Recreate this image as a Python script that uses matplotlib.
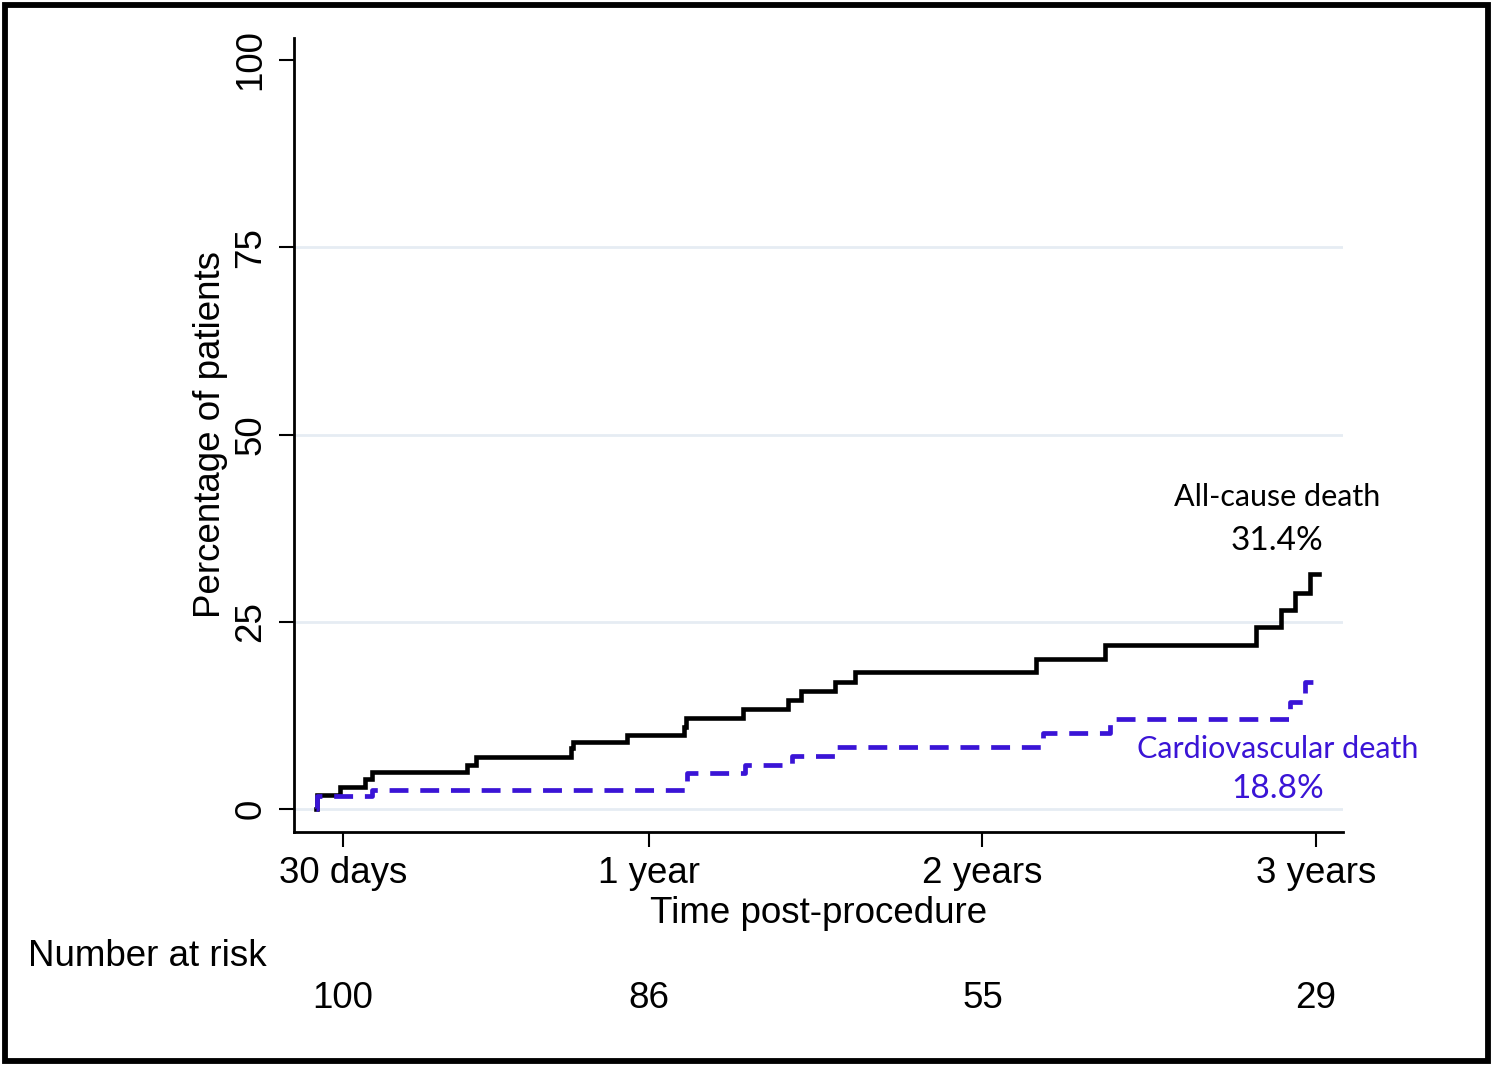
import matplotlib
matplotlib.use("Agg")
import matplotlib.pyplot as plt
from matplotlib.patches import Rectangle
from matplotlib.transforms import blended_transform_factory

# ---------------- data ----------------
# time in days post-procedure, cumulative percentage (step, post)
allcause_days = [0, 1, 27, 54, 62, 166, 176, 279, 282, 341, 403, 405, 468, 517, 531,
                 569, 590, 789, 864, 1030, 1057, 1072, 1089, 1098]
allcause_pct = [0, 1.9, 2.9, 4.0, 4.9, 5.9, 6.9, 8.1, 8.9, 9.9, 11.0, 12.2, 13.3, 14.5, 15.8,
                17.0, 18.25, 20.0, 21.9, 24.3, 26.6, 28.9, 31.4, 31.4]

cv_days = [0, 1, 62, 407, 470, 522, 570, 796, 870, 1067, 1083, 1098]
cv_pct = [0, 1.7, 2.5, 4.8, 5.9, 7.1, 8.3, 10.1, 12.0, 14.3, 16.9, 16.9]

xtick_pos = [30, 365, 730, 1095]
xtick_labels = ["30 days", "1 year", "2 years", "3 years"]
ytick_pos = [0, 25, 50, 75, 100]
grid_levels = [0, 25, 50, 75]
at_risk = [100, 86, 55, 29]

allcause_label = "All-cause death"
allcause_final = "31.4%"
cv_label = "Cardiovascular death"
cv_final = "18.8%"

# ---------------- style ----------------
BLUE = "#3a14d6"
STATA_FONT = ["Liberation Sans", "DejaVu Sans"]
NOTE_FONT = ["Lato", "DejaVu Sans"]
FS = 26.5

W, H = 1492, 1065
fig = plt.figure(figsize=(W / 100, H / 100), dpi=100)
fig.patch.set_facecolor("white")

ax = fig.add_axes([294 / W, 1 - 832 / H, (1342.8 - 294) / W, (832 - 38) / H])
ax.set_xlim(-23.8, 1124.6)
ax.set_ylim(-3.07, 102.94)

for g in grid_levels:
    ax.axhline(g, color="#e6ecf3", lw=2.0, zorder=0)

ax.step(allcause_days, allcause_pct, where="post", color="black", lw=3.3,
        solid_joinstyle="miter", zorder=3)
ax.step(cv_days, cv_pct, where="post", color=BLUE, lw=3.4,
        linestyle=(0, (4.0, 2.5)), dash_capstyle="butt", zorder=4)

for s in ["top", "right"]:
    ax.spines[s].set_visible(False)
for s in ["left", "bottom"]:
    ax.spines[s].set_linewidth(2.0)
    ax.spines[s].set_color("black")

ax.set_xticks(xtick_pos)
ax.set_xticklabels(xtick_labels, family=STATA_FONT, fontsize=FS)
ax.set_yticks(ytick_pos)
ax.set_yticklabels([str(v) for v in ytick_pos], family=STATA_FONT, fontsize=FS,
                   rotation=90, va="center")
ax.tick_params(axis="x", length=11, width=1.5, pad=6, direction="out")
ax.tick_params(axis="y", length=10.5, width=1.5, pad=8, direction="out")

ax.set_xlabel("Time post-procedure", family=STATA_FONT, fontsize=FS, labelpad=4)
ax.set_ylabel("Percentage of patients", family=STATA_FONT, fontsize=FS)
ax.yaxis.set_label_coords(-0.063, 0.5)

# end-of-curve annotations
ax.text(1052.6, 41.7, allcause_label, family=NOTE_FONT, fontsize=22,
        ha="center", va="center", color="black")
ax.text(1052.6, 35.8, allcause_final, family=NOTE_FONT, fontsize=24,
        ha="center", va="center", color="black")
ax.text(1053.7, 8.0, cv_label, family=NOTE_FONT, fontsize=22,
        ha="center", va="center", color=BLUE)
ax.text(1053.7, 2.7, cv_final, family=NOTE_FONT, fontsize=24,
        ha="center", va="center", color=BLUE)

# number at risk
fig.text(28 / W, 1 - 957 / H, "Number at risk", family=STATA_FONT, fontsize=FS,
         ha="left", va="center")
tr = blended_transform_factory(ax.transData, fig.transFigure)
for xp, n in zip(xtick_pos, at_risk):
    ax.text(xp, 1 - 998 / H, str(n), transform=tr, family=STATA_FONT, fontsize=FS,
            ha="center", va="center", clip_on=False)

# outer frame
fig.patches.append(Rectangle((4.5 / W, 4.5 / H), (W - 9) / W, (H - 9) / H,
                             transform=fig.transFigure, fill=False,
                             edgecolor="black", linewidth=4.2))

fig.savefig("out.png", dpi=100)
